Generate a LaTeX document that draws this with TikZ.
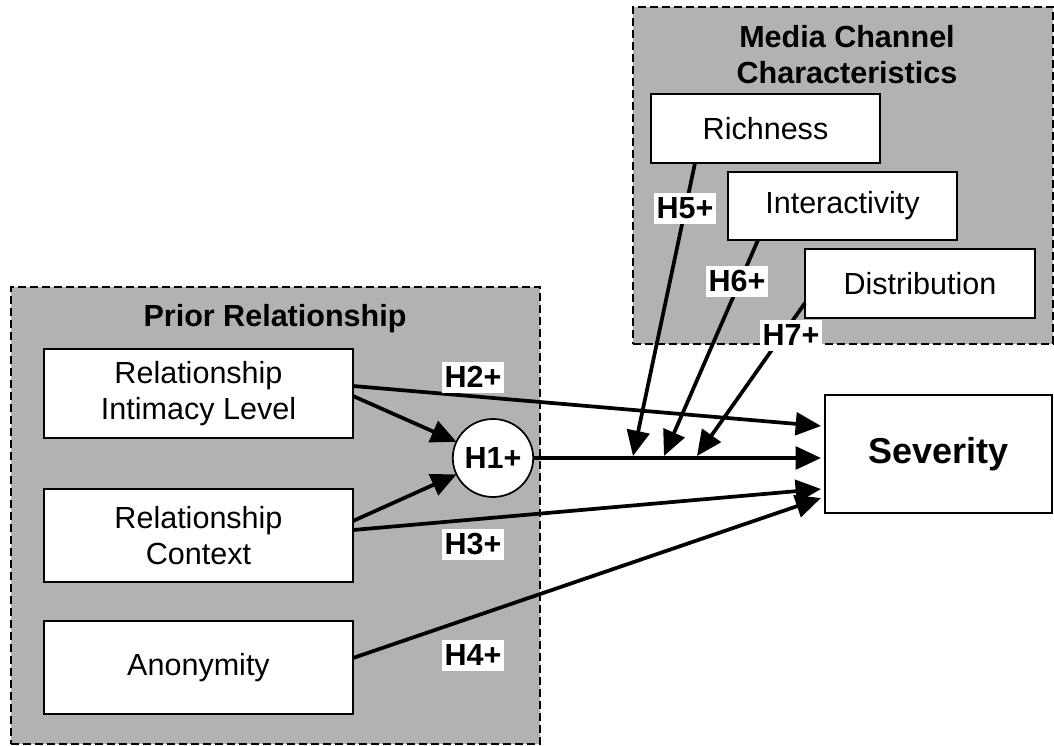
\documentclass[tikz,border=0pt]{standalone}
\usepackage{fontspec}
\setmainfont{Liberation Sans}
\usetikzlibrary{arrows.meta,shapes.geometric,calc}
\definecolor{panelgray}{RGB}{178,178,178}
\begin{document}
\begin{tikzpicture}[x=0.75pt,y=-0.75pt,
  panel/.style={draw=black, fill=panelgray, line width=1.2pt,
    dash pattern=on 6pt off 3pt, rectangle, inner sep=0pt, outer sep=0pt},
  paneltitle/.style={font=\bfseries\fontsize{22.9}{27}\selectfont, align=center, inner sep=0pt},
  varbox/.style={draw=black, fill=white, line width=1.3pt, rectangle, align=center,
    inner sep=0pt, outer sep=0pt, font=\fontsize{22.9}{26.5}\selectfont},
  hyp/.style={fill=white, inner sep=0pt, minimum width=46.5pt, minimum height=23.25pt,
    font=\bfseries\fontsize{22.9}{26.5}\selectfont},
  link/.style={line width=2.8pt, -{Triangle[length=19pt,width=17pt]}}]

\useasboundingbox (0,0) rectangle (1054,746);

% grouping panels
\node[panel, minimum width=396.75pt, minimum height=342.75pt] (prior) at (275.5,515.5) {};
\node[panel, minimum width=315pt, minimum height=252.75pt] (media) at (843,175.5) {};
\node[paneltitle] (priort) at (275,319) {Prior Relationship};
\node[paneltitle] (mediat) at (847,55) {Media Channel\\Characteristics};

% constructs
\node[varbox, minimum width=231.75pt, minimum height=66.75pt] (intim) at (198.5,393.5) {Relationship\\Intimacy Level};
\node[varbox, minimum width=231.75pt, minimum height=69.75pt] (ctx) at (198.5,535.5) {Relationship\\Context};
\node[varbox, minimum width=231.75pt, minimum height=69.75pt] (anon) at (198.5,667.5) {Anonymity};
\node[varbox, minimum width=171.75pt, minimum height=51.75pt] (rich) at (765.5,128.5) {Richness};
\node[varbox, minimum width=171.75pt, minimum height=51pt] (inter) at (842.5,206) {Interactivity};
\node[varbox, minimum width=172.5pt, minimum height=51.75pt] (distr) at (920,283.5) {Distribution};
\node[varbox, minimum width=170.25pt, minimum height=88.5pt,
  font=\bfseries\fontsize{27}{32}\selectfont] (sev) at (938.5,454) {Severity};
\node[ellipse, draw=black, fill=white, line width=1.3pt, inner sep=0pt, outer sep=0pt,
  minimum width=52.5pt, minimum height=58.5pt,
  font=\bfseries\fontsize{22.9}{26.5}\selectfont] (h1) at (493,458) {H1+};

% paths into the interaction term and onto severity
\draw[link] ($(intim.east)+(0,-7.5)$) -- ($(sev.west)+(-4,-28)$);
\draw[link] ($(intim.east)+(0,2.5)$) -- (h1);
\draw[link] ($(ctx.east)+(0,-14.5)$) -- (h1);
\draw[link] ($(ctx.east)+(0,-5.5)$) -- ($(sev.west)+(-4,35)$);
\draw[link] ($(anon.east)+(0,-9.5)$) -- ($(sev.west)+(-4,44)$);
\draw[link] (h1.east) -- ($(h1.east -| sev.west)+(-4,0)$);

% moderating effects of the media channel
\coordinate (m5) at (633,456);
\coordinate (m6) at (664,456);
\coordinate (m7) at (697,456);
\draw[link] ($(rich.south)+(-70.5,0)$) -- (m5);
\draw[link] ($(inter.south)+(-84.5,0)$) -- (m6);
\draw[link] ($(distr.west)+(0,19.5)$) -- (m7);

% hypothesis labels
\node[hyp] (h2l) at (473,377) {H2+};
\node[hyp] (h3l) at (473,544) {H3+};
\node[hyp] (h4l) at (473,655) {H4+};
\node[hyp] (h5l) at (685,208) {H5+};
\node[hyp] (h6l) at (737,281) {H6+};
\node[hyp] (h7l) at (791,335) {H7+};
\end{tikzpicture}
\end{document}
